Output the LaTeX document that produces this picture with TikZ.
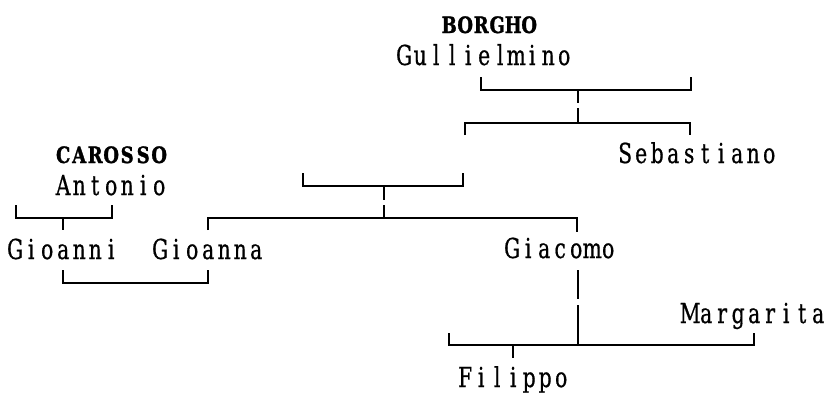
\documentclass[tikz,border=0pt]{standalone}
\usepackage{fontspec}
\usepackage{graphicx}
\setmainfont{DejaVu Serif}
\newfontfamily\givenf{DejaVu Serif}[FakeBold=0.8]
\newfontfamily\surf{DejaVu Serif}[BoldFeatures={FakeBold=1.5}]
\ExplSyntaxOn
\NewDocumentCommand\monotext{m}{\tl_map_inline:nn {#1} {\makebox[16pt][c]{\scalebox{0.74}[1]{##1}}}}
\NewDocumentCommand\monosur{m}{\tl_map_inline:nn {#1} {\makebox[16pt][c]{\scalebox{0.8}[1]{##1}}}}
\ExplSyntaxOff
\begin{document}
\begin{tikzpicture}[x=1pt,y=-1pt,
  person/.style={anchor=base west,inner sep=0pt,font=\givenf\fontsize{27.5}{32}\selectfont},
  famname/.style={person,font=\surf\bfseries\fontsize{22.5}{28}\selectfont},
  link/.style={line width=2pt,black}]
\useasboundingbox (0,0) rectangle (828,392);
% people
\node[famname] (borgho) at (441,33) {\monosur{BORGHO}};
\node[person] (gull) at (396,65) {\monotext{Gullielmino}};
\node[person] (seba) at (617,163) {\monotext{Sebastiano}};
\node[famname] (carosso) at (55,163) {\monosur{CAROSSO}};
\node[person] (anto) at (55,195) {\monotext{Antonio}};
\node[person] (gioanni) at (7,259) {\monotext{Gioanni}};
\node[person] (gioanna) at (152,259) {\monotext{Gioanna}};
\node[person] (giac) at (504,258) {\monotext{Giacomo}};
\node[person] (marg) at (682,323) {\monotext{Margarita}};
\node[person] (fil) at (457,387) {\monotext{Filippo}};
% junction coordinates
\coordinate (gA) at (481,77);  \coordinate (gB) at (691,77);
\coordinate (jA) at (578,90);  \coordinate (jB) at (578,123);
\coordinate (sL) at (465,135); \coordinate (sR) at (690,135);
\coordinate (cL) at (303,173); \coordinate (cR) at (463,173);
\coordinate (jC) at (384,186); \coordinate (jD) at (384,218);
\coordinate (dL) at (208,230); \coordinate (dR) at (577,232);
\coordinate (aL) at (16,205);  \coordinate (aR) at (112,205);
\coordinate (aC) at (63,218);  \coordinate (aD) at (63,230);
\coordinate (mL) at (63,270);  \coordinate (mR) at (208,270);
\coordinate (gv1) at (578,270); \coordinate (gv2) at (578,345);
\coordinate (fL) at (449,333); \coordinate (fR) at (754,333);
\coordinate (fT) at (513,345); \coordinate (fB) at (513,358);
% Gullielmino's couple bracket
\draw[link] (gA) -- (481,90) -| (gB);
\draw[link] (jA) -- (578,103);
\draw[link] (578,108) -- (jB);
% Gullielmino's children
\draw[link] (sL) |- (jB) -| (sR);
% bracket of the left child
\draw[link] (cL) -- (303,186) -| (cR);
\draw[link] (jC) -- (384,200);
\draw[link] (384,205) -- (jD);
% children: Gioanna and Giacomo
\draw[link] (dL) |- (jD) -| (dR);
% Antonio's bracket
\draw[link] (aL) -- (16,218) -| (aR);
\draw[link] (aC) -- (aD);
% marriage Gioanni - Gioanna
\draw[link] (mL) -- (63,283) -| (mR);
% Giacomo down
\draw[link] (gv1) -- (578,299);
\draw[link] (578,305) -- (gv2);
% Filippo bracket
\draw[link] (fL) -- (449,345) -| (fR);
\draw[link] (fT) -- (fB);
\end{tikzpicture}
\end{document}
